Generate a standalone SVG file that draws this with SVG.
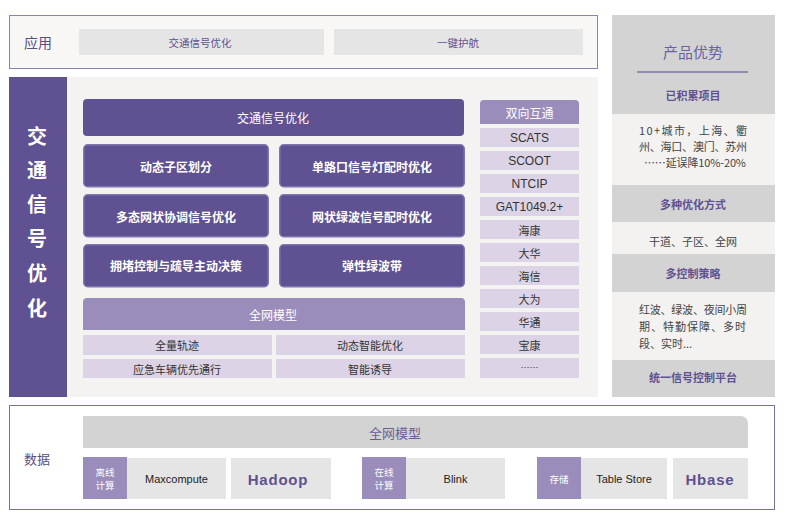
<svg xmlns="http://www.w3.org/2000/svg" width="798" height="530" viewBox="0 0 798 530">
<style>
text{font-family:"Noto Sans CJK SC","Liberation Sans",sans-serif;text-anchor:middle;dominant-baseline:central}
.lat{font-family:"Liberation Sans","Noto Sans CJK SC",sans-serif}
.grey{fill:#e6e5e5}
.pm{fill:#5f5192}
.btn{fill:#5f5192;stroke:#8076ad;stroke-width:1.5}
.btxt{fill:#fff;font-size:12px;font-weight:bold}
.lp{fill:#9a8dbb}
.sub{fill:#dcd3e6}
.stxt{fill:#333;font-size:11px}
.ptxt{fill:#5f5192;font-size:11px}
.side{fill:#d4d3d4}
.lite{fill:#f3f2f1}
.adv{fill:#5f5192;font-size:11px;font-weight:bold}
.body{fill:#444;font-size:11px}
.side-t{fill:#fff;font-size:20px;font-weight:bold}
</style>
<rect width="798" height="530" fill="#fff"/>

<g id="app-layer">
<rect x="9.5" y="15.5" width="588" height="53" fill="#f8f7f6" stroke="#8a82b0" stroke-width="1"/>
<text x="38" y="42" style="fill:#5a5080;font-size:14px">应用</text>
<g id="app-signal"><rect class="grey" x="79" y="29" width="245" height="26"/><text x="200" y="42" class="ptxt" style="font-size:10.5px">交通信号优化</text></g>
<g id="app-escort"><rect class="grey" x="334" y="29" width="249" height="26"/><text x="458" y="42" class="ptxt" style="font-size:10.5px">一键护航</text></g>
</g>

<g id="main-layer">
<rect x="67" y="77" width="531" height="320" fill="#f4f3f2"/>
<rect x="9" y="77" width="58" height="320" fill="#5f5192"/>
<text x="37" y="135" class="side-t">交</text>
<text x="37" y="169" class="side-t">通</text>
<text x="37" y="203" class="side-t">信</text>
<text x="37" y="237" class="side-t">号</text>
<text x="37" y="272" class="side-t">优</text>
<text x="37" y="307" class="side-t">化</text>

<g id="signal-header"><rect class="pm" x="83" y="99" width="381" height="37" rx="4"/><text x="273" y="117" style="fill:#fff;font-size:12px">交通信号优化</text></g>
<g id="b1"><rect class="btn" x="83.75" y="144.75" width="184.5" height="42" rx="4"/><text x="176" y="166" class="btxt">动态子区划分</text></g>
<g id="b2"><rect class="btn" x="279.75" y="144.75" width="184.5" height="42" rx="4"/><text x="372" y="166" class="btxt">单路口信号灯配时优化</text></g>
<g id="b3"><rect class="btn" x="83.75" y="194.75" width="184.5" height="42" rx="4"/><text x="176" y="216" class="btxt">多态网状协调信号优化</text></g>
<g id="b4"><rect class="btn" x="279.75" y="194.75" width="184.5" height="42" rx="4"/><text x="372" y="216" class="btxt">网状绿波信号配时优化</text></g>
<g id="b5"><rect class="btn" x="83.75" y="244.75" width="184.5" height="42" rx="4"/><text x="176" y="265" class="btxt">拥堵控制与疏导主动决策</text></g>
<g id="b6"><rect class="btn" x="279.75" y="244.75" width="184.5" height="42" rx="4"/><text x="372" y="265" class="btxt">弹性绿波带</text></g>

<g id="model"><path class="lp" d="M83,330 V302 a4,4 0 0 1 4,-4 H461 a4,4 0 0 1 4,4 V330 Z"/><text x="273" y="314" style="fill:#fff;font-size:12px">全网模型</text></g>
<g id="m1"><rect class="sub" x="83" y="335" width="189" height="20"/><text x="177" y="345" class="stxt">全量轨迹</text></g>
<g id="m2"><rect class="sub" x="276" y="335" width="189" height="20"/><text x="370" y="345" class="stxt">动态智能优化</text></g>
<g id="m3"><rect class="sub" x="83" y="359" width="189" height="19"/><text x="177" y="368.5" class="stxt">应急车辆优先通行</text></g>
<g id="m4"><rect class="sub" x="276" y="359" width="189" height="19"/><text x="370" y="368.5" class="stxt">智能诱导</text></g>

<g id="interop">
<path class="lp" d="M480,124 V104 a4,4 0 0 1 4,-4 H575 a4,4 0 0 1 4,4 V124 Z"/>
<text x="529.5" y="112" style="fill:#fff;font-size:12px">双向互通</text>
<rect class="sub" x="480" y="128" width="99" height="19"/><text class="stxt lat" x="529.5" y="137.5" style="font-size:12px">SCATS</text>
<rect class="sub" x="480" y="151" width="99" height="19"/><text class="stxt lat" x="529.5" y="160.5" style="font-size:12px">SCOOT</text>
<rect class="sub" x="480" y="174" width="99" height="19"/><text class="stxt lat" x="529.5" y="183.5" style="font-size:12px">NTCIP</text>
<rect class="sub" x="480" y="197" width="99" height="19"/><text class="stxt lat" x="529.5" y="206.5" style="font-size:12px">GAT1049.2+</text>
<rect class="sub" x="480" y="220" width="99" height="19"/><text class="stxt" x="529.5" y="229.5">海康</text>
<rect class="sub" x="480" y="243" width="99" height="19"/><text class="stxt" x="529.5" y="252.5">大华</text>
<rect class="sub" x="480" y="266" width="99" height="19"/><text class="stxt" x="529.5" y="275.5">海信</text>
<rect class="sub" x="480" y="289" width="99" height="19"/><text class="stxt" x="529.5" y="298.5">大为</text>
<rect class="sub" x="480" y="312" width="99" height="19"/><text class="stxt" x="529.5" y="321.5">华通</text>
<rect class="sub" x="480" y="335" width="99" height="19"/><text class="stxt" x="529.5" y="344.5">宝康</text>
<rect class="sub" x="480" y="358" width="99" height="20"/><text class="stxt" x="529.5" y="367" style="font-size:9px">……</text>
</g>
</g>

<g id="advantages">
<rect class="side" x="612" y="15" width="163" height="382"/>
<text x="693" y="51" style="fill:#6a62a0;font-size:15px">产品优势</text>
<line x1="637" y1="72" x2="748" y2="72" stroke="#7c74ab" stroke-width="1.5"/>
<text x="693" y="95" class="adv">已积累项目</text>
<rect class="lite" x="612" y="114" width="163" height="71"/>
<text x="693" y="130" class="body" textLength="108" lengthAdjust="spacing">10+城市，上海、衢</text>
<text x="693" y="146" class="body" textLength="108" lengthAdjust="spacing">州、海口、澳门、苏州</text>
<text x="695" y="162" class="body" textLength="102" lengthAdjust="spacing">……延误降10%-20%</text>
<text x="693" y="204" class="adv">多种优化方式</text>
<rect class="lite" x="612" y="222" width="163" height="32"/>
<text x="693" y="241" class="body">干道、子区、全网</text>
<text x="693" y="273" class="adv">多控制策略</text>
<rect class="lite" x="612" y="292" width="163" height="68"/>
<text x="639" y="309" class="body" style="text-anchor:start" textLength="108" lengthAdjust="spacing">红波、绿波、夜间小周</text>
<text x="639" y="326" class="body" style="text-anchor:start" textLength="107" lengthAdjust="spacing">期、特勤保障、多时</text>
<text x="639" y="343" class="body" style="text-anchor:start">段、实时...</text>
<text x="693" y="377" class="adv">统一信号控制平台</text>
</g>

<g id="data-layer">
<rect x="9.5" y="405.5" width="765" height="104" fill="#fff" stroke="#7a70a6" stroke-width="1"/>
<text x="37" y="458" style="fill:#5a5080;font-size:13px">数据</text>
<g id="data-model"><path class="side" d="M83,448 V416 H741 a7,7 0 0 1 7,7 V448 Z"/><text x="395" y="432" style="fill:#6a5f95;font-size:13px">全网模型</text></g>
<g id="offline"><rect class="lp" x="83" y="457" width="44" height="42"/><text x="105" y="472" style="fill:#fff;font-size:9.5px">离线</text><text x="105" y="485" style="fill:#fff;font-size:9.5px">计算</text>
<rect class="grey" x="127" y="458" width="99" height="41"/><text x="176.5" y="479" class="lat" style="fill:#222;font-size:11px">Maxcompute</text></g>
<g id="hadoop"><rect class="grey" x="231" y="458" width="100" height="41"/><text x="278" y="479" class="lat" style="fill:#5f5192;font-size:15px;font-weight:bold;letter-spacing:0.8px">Hadoop</text></g>
<g id="online"><rect class="lp" x="362" y="457" width="44" height="42"/><text x="384" y="472" style="fill:#fff;font-size:9.5px">在线</text><text x="384" y="485" style="fill:#fff;font-size:9.5px">计算</text>
<rect class="grey" x="406" y="458" width="99" height="41"/><text x="455.5" y="479" class="lat" style="fill:#222;font-size:11px">Blink</text></g>
<g id="storage"><rect class="lp" x="537" y="457" width="44" height="42"/><text x="559" y="479" style="fill:#fff;font-size:9.5px">存储</text>
<rect class="grey" x="581" y="458" width="86" height="41"/><text x="624" y="479" class="lat" style="fill:#222;font-size:11px">Table Store</text></g>
<g id="hbase"><rect class="grey" x="673" y="458" width="75" height="41"/><text x="710" y="479" class="lat" style="fill:#5f5192;font-size:15px;font-weight:bold;letter-spacing:0.8px">Hbase</text></g>
</g>
</svg>
